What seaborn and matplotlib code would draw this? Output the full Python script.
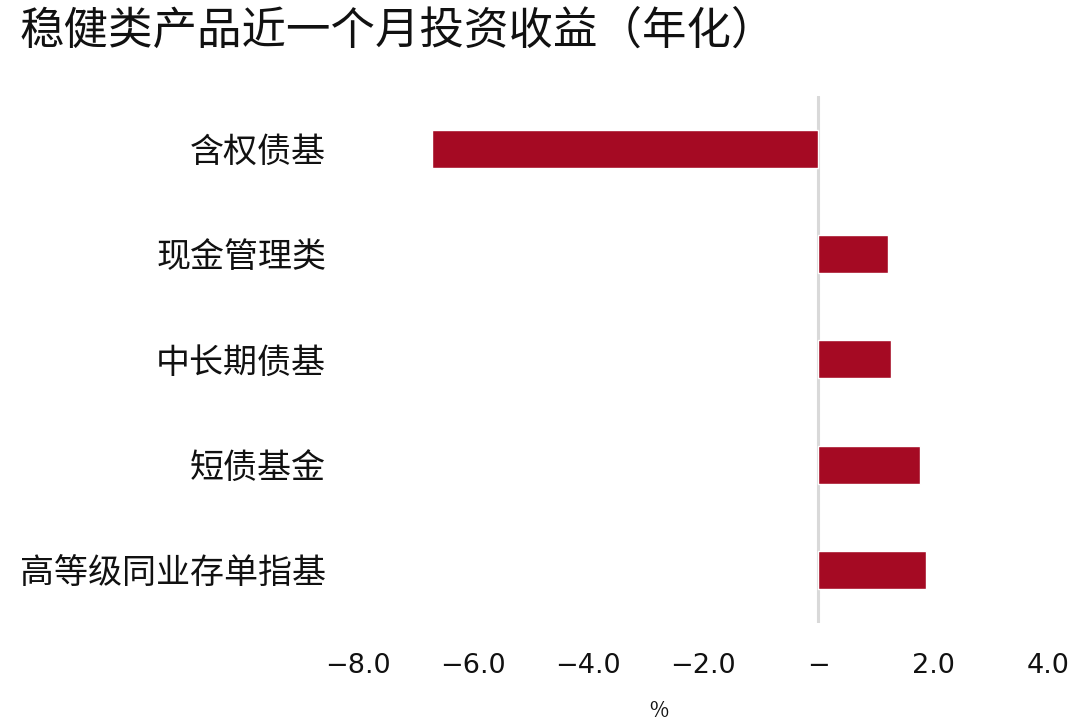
import matplotlib
matplotlib.use("Agg")
import matplotlib.pyplot as plt
import seaborn as sns
import pandas as pd

categories = ["含权债基", "现金管理类", "中长期债基", "短债基金", "高等级同业存单指基"]
values = [-6.71, 1.21, 1.27, 1.77, 1.88]
tick_values = [-8, -6, -4, -2, 0, 2, 4]
tick_labels = ["−8.0", "−6.0", "−4.0", "−2.0", "−", "2.0", "4.0"]
title = "稳健类产品近一个月投资收益（年化）"
unit = "%"

sns.set_theme(style="white")
plt.rcParams["font.family"] = ["Noto Sans CJK SC", "DejaVu Sans"]
plt.rcParams["axes.unicode_minus"] = False

df = pd.DataFrame({"cat": categories, "val": values})

fig = plt.figure(figsize=(10.8, 7.24), dpi=100)
ax = fig.add_axes([358 / 1080, 1 - 622.6 / 724, (1048 - 358) / 1080, (622.6 - 96) / 724])

sns.barplot(data=df, x="val", y="cat", color="#A50A23", saturation=1, width=0.36, ax=ax, orient="h")

ax.axvline(0, color="#d9d9d9", lw=2.2, zorder=0)
ax.set_xlim(-8, 4)
ax.set_ylim(4.5, -0.5)
for s in ax.spines.values():
    s.set_visible(False)
ax.set_xlabel("")
ax.set_ylabel("")
ax.set_xticks(tick_values)
ax.set_xticklabels(tick_labels, fontsize=19.5, color="#111111", family="DejaVu Sans")
ax.tick_params(axis="x", length=0, pad=22)
ax.tick_params(axis="y", length=0, pad=23, labelsize=24.5, labelcolor="#111111")
ax.grid(False)

fig.text(20 / 1080, 1 - 31 / 724, title, fontsize=32, color="#111111", ha="left", va="center")
fig.text(659 / 1080, 1 - 711 / 724, unit, fontsize=15, color="#111111", ha="center", va="center")

fig.savefig("out.png", dpi=100, facecolor="white")
